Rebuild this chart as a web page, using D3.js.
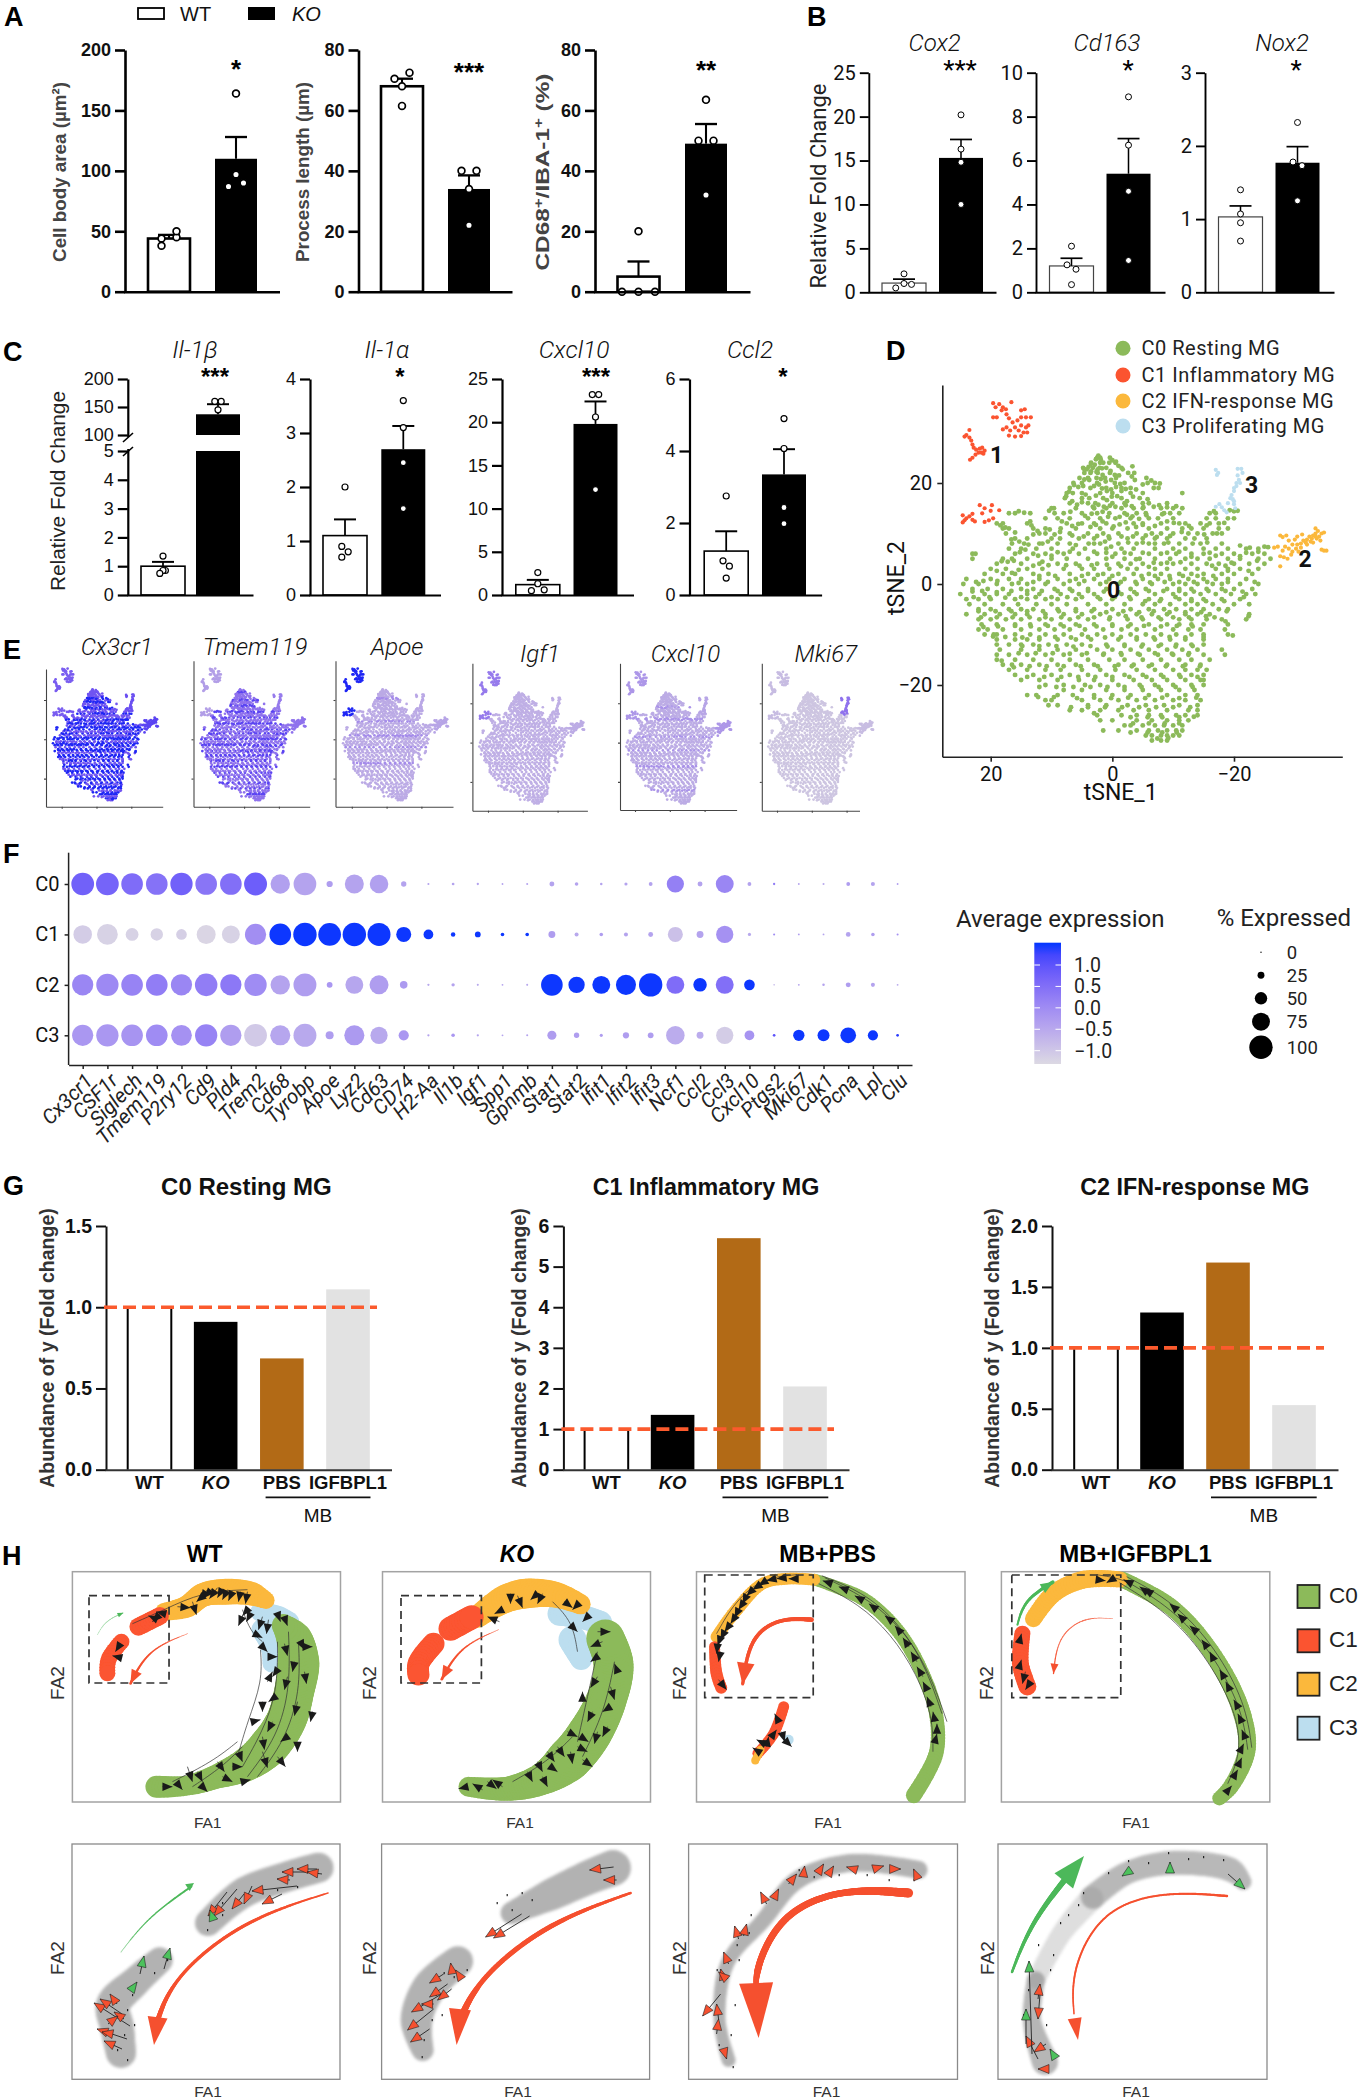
<!DOCTYPE html>
<html><head><meta charset="utf-8">
<style>html,body{margin:0;padding:0;background:#fff}svg{display:block}</style>
<script src="https://cdnjs.cloudflare.com/ajax/libs/d3/7.8.5/d3.min.js"></script>
</head><body><svg id="fig" width="1360" height="2100"></svg>
<script>
const groupsAB = ["WT","KO"];
// Panel A
const a1Val=[44,110],a1Err=[47,128],a1Pts=[[38,44,45,50],[164,97,90,87]],a1Slot=[[-1,-1,1,1],[0,0,1,-1]];
const a2Val=[68,34],a2Err=[70.5,38.5],a2Pts=[[70.5,72.5,68,61.5],[40,40,34,22]],a2Slot=[[-1,1,0,0],[-1,1,0,0]];
const a3Val=[5,49],a3Err=[10,55.5],a3Pts=[[0,0,0,20],[63.5,50,50,32]],a3Slot=[[-2.2,0,2.2,0],[0,-1,1,0]];
// Panel B
const b1Val=[1.05,15.3],b1Err=[1.5,17.4],b1Pts=[[2.1,1,.9,.5],[20.2,16.3,14.8,10]],b1Slot=[[0,0,1,-1.1],[0,0,0,0]];
const b2Val=[1.2,5.4],b2Err=[1.55,7],b2Pts=[[2.1,1.25,1.05,.35],[8.9,6.7,4.6,1.45]],b2Slot=[[0,-.6,.6,0],[0,0,0,0]];
const b3Val=[1.03,1.77],b3Err=[1.18,1.99],b3Pts=[[1.4,1.07,.95,.7],[2.32,1.78,1.73,1.25]],b3Slot=[[0,0,0,0],[0,-.6,.6,0]];
// Panel C
const c1Val=[1,137],c1Err=[1.15,155],c1Pts=[[1.35,.85,.85,.75],[160,160,145],],c1Slot=[[0,.3,0,-.4],[-.4,.4,0]];
const c2Val=[1.1,2.7],c2Err=[1.4,3.13],c2Pts=[[2,.9,.8,.7],[3.6,3.1,2.45,1.6]],c2Slot=[[0,-.4,.4,-.4],[0,0,0,0]];
const c3Val=[1.2,19.8],c3Err=[1.75,22.4],c3Pts=[[2.6,1.3,.6,.5],[23.2,23.2,20.6,12.2]],c3Slot=[[0,0,.8,-.8],[-.4,.4,0,0]];
const c4Val=[1.22,3.35],c4Err=[1.77,4.05],c4Pts=[[2.75,.95,.8,.47],[4.9,4.07,2.43,1.98]],c4Slot=[[0,-.4,.4,0],[0,0,0,0]];
// Panel D : tSNE cells, read as rows [tSNE_2,[tSNE_1,...]]
const c0Rows=[[25,[2.5,2]],[24,[3.5,2,.5,-.5]],[23,[4.8,3.2,2.1,1,-1.5]],[22,[4.6,3.6,2.4,.4,-2.6,-3.6]],[21,[4,2.6,1.2,-.6,-5.6]],[20,[6.4,5,2.5,-.4,-2,-5.8,-7]],[19,[7,3.6,1,-1.5,-3,-6.8,-7.6]],[18,[7.5,6.5,5,2,0,-3,-5,-11.5]],[17,[7.8,5,3.8,1.5,-1.5,-4.5]],[16,[7,4,2.8,0,-2,-5,-6,-9]],[15,[10,6,3,1,-1.5,-3.5,-5,-8,-10,-11.5]],[14,[17,16,13.5,9.5,8,5,2.5,.5,-2,-4,-5.5,-8.5,-9.5,-11,-16,-17]],[13,[11,9,7,4,2,-.5,-3,-6,-7.5,-10,-15.5,-17,-19,-20]],[12,[19,18,14,7.5,5,3,1,-3.5,-5,-8,-11,-12,-14.5,-16,-17.5]],[11,[18,17,13,11,8.5,6,2,0,-2.5,-6,-9,-11.5,-13,-15,-17.5,-19]],[10,[17.5,12,11,7,4,1.5,-1,-4,-8,-10,-12.5,-14,-16.5,-18]],[9,[16,14,10,8.6,5.5,3,.5,-2.5,-5,-7,-9,-12,-13.5,-15.5]],[8,[16.5,14.5,12,9,7,3,2,-1,-4,-6,-8.5,-11,-14.5,-18]],[7,[17,15,12.5,10,6.5,4.5,1,-1.5,-3.5,-7,-10,-12,-15,-17,-19,-22,-24]],[6,[23,22.5,16,13,11,8,5.5,2.5,-.5,-3,-6,-8,-10.5,-13,-15,-18,-20,-23,-25]],[5,[23,18,16.5,14,10,7.5,4,1,-2,-4.5,-7,-9.5,-12,-14,-16,-19,-21,-24,-26]],[4,[19,15,12,9,6,2.5,-1,-3,-5,-8,-10,-13,-15.5,-17.5,-20,-22.5,-25]],[3,[20,17.5,14,11.5,8,5,3,.5,-2.5,-4,-7,-9,-12,-14,-17,-19,-21,-24]],[2,[21,18,16,13,10.5,7,4,1.5,-1,-3.5,-6,-8,-11,-13,-15,-18,-20,-23]],[1,[24,20,17,15,12,9,6,3,.5,-2,-5,-7.5,-9.5,-12.5,-15,-17,-19,-22]],[0,[24.5,22,19,16.5,14,11,8,5.5,2,-1,-4,-6.5,-10,-12,-14,-16.5,-18,-21,-24]],[-1,[23,20.5,18,15,13,9.5,7,4,1,-3,-5.5,-9,-11,-13,-15.5,-18,-20,-23]],[-2,[25,21,19,17,14,12,8.5,5.5,3,-1.5,-4,-7,-10,-12,-14.5,-17,-19.5,-22,-23.5]],[-3,[24,22,20,16,14,11,9,6,2,0,-3,-6,-8,-11,-13,-15,-18,-21]],[-4,[23.5,21,18,15.5,12.5,10,7.5,4,1,-2,-5,-7,-9.5,-12,-14,-16.5,-20,-22.5]],[-5,[22,20,17,15,13,9,6,3,0,-3,-6,-8.5,-10.5,-13,-15,-17.5,-19]],[-6,[24,21,18.5,16,14,11,8,5,2,-1,-4,-6.5,-9,-12,-14,-16,-22.5]],[-7,[22,20,17.5,15,12,10,7,4,.5,-2.5,-5,-8,-11,-13,-15.5,-18,-22]],[-8,[21.5,19,16,13.5,11,8.5,6,3,0,-3,-6,-9,-11,-13,-15,-19]],[-9,[22,20.5,18,15,12,9.5,7,4.5,1.5,-1.5,-4,-7,-10,-12.5,-14.5,-18.5]],[-10,[21,19.5,19,16,13.5,11,8,5,2.5,0,-3,-5.5,-8,-10.5,-13,-15,-19]],[-11,[19,16,14,12,9,6,3.5,-1,-4,-7,-9.5,-12,-15]],[-12,[19,17,15,13,10.5,7.5,5,1,-2,-5,-8,-10.5,-13,-15]],[-13,[18.5,15,12,9,6,2.5,0,-3,-6,-9,-11.5,-14,-18]],[-14,[19,17,14,11,8,5,1.5,-1.5,-4.5,-7.5,-10,-12.5,-15,-18.5]],[-15,[19,16,13,10,7,4,.5,-2,-5,-8,-11,-13,-16]],[-16,[18,16.5,15,12,9,6,3,-1,-3.5,-6.5,-9,-12,-14.5]],[-17,[17,14,11,8.5,5,2,-.5,-4,-7,-10,-12,-14,-15.5]],[-18,[16,13,10,7,4,1,-2,-5,-8,-11,-13,-15]],[-19,[15,12,9,5.5,3,0,-3.5,-6.5,-9,-12,-14.5,-15]],[-20,[11,8,4.5,2,-1,-4.5,-7,-10,-13,-15]],[-21,[8,5,1,-2,-5,-8,-11,-13.5]],[-22,[14,12.5,9,6.5,3,0,-3,-6,-9,-12,-14]],[-23,[11,10,5,2,-1,-4,-7,-10,-12,-14.5]],[-24,[9,10.5,4,1,-2.5,-5.5,-8.5,-11,-14]],[-25,[7,5,2,-1,-3.5,-6,-9,-12.5,-14]],[-26,[2.5,-1.5,-4,-6,-8,-10.5,-12,-14]],[-27,[2,0,-4,-6.5,-9,-11,-12.5]],[-28,[-2,-3,-5,-7,-8.5,-10,-11.5]],[-29,[1.5,-1,-4,-6,-7.5,-9,-10.5,-11.5]],[-30,[-5.5,-6.5,-8,-9,-10,-11]],[-31,[-6.5,-8,-9]]];
// more C0 cells as flat tSNE_1,tSNE_2 pairs
const c0Extra=[2.3,25.4,2.7,24.7,1.9,24.6,2.9,23.6,3.5,23.8,1.5,24,3.9,23.2,2.4,22.7,4.7,22.8,4.2,22.7,1.7,22.9,.4,25,0,24.5,-.6,24.2,-1,23.4,-1.7,22.7,-3.3,23.3,3.5,22.3,2.6,22.2,1.6,21.6,.3,22.4,-.4,21.6,-1.1,21.5,-3.2,21.3,-3.7,20.6,-6.4,20.5,-7.8,19.9,5.4,21,4.6,20.7,3.8,20.6,1.9,20.8,1.1,20.3,.2,20.6,-1.3,19.8,-5,19.7,6.3,19.6,5.6,19.2,4.8,19.4,3,19.4,2.2,19.7,1.7,18.9,.9,18.4,.2,18.7,-.6,19.2,-1.5,18.4,-2.2,18.8,-3.9,18.7,7.1,18.3,7.6,17.4,4.4,17.7,2.7,17.5,.9,16.6,.1,17.3,-.8,17.4,-2.4,16.4,-3.4,17.3,-5.8,16.8,6.6,16.4,5.8,15.7,5,16.2,3.2,15.3,2.3,15.7,1.4,15.3,.4,15.5,-.5,15.3,-2.2,15.6,-3.2,15.4,-5.1,15.2,-6.8,15.3,-7.7,15.6,-9,15.2,-10.5,15.4,10.4,14.5,9.6,15,6.9,14.3,4.5,13.5,3.4,13.9,1.6,14.3,.7,13.3,-1.2,13.3,-2.4,13.7,-3.3,13.4,-4.4,12.9,-5.6,13.6,-8.2,13.8,-16.7,14.4,-19.3,14.6,-20,14.4,-20.6,14.5,15.4,14.4,14.5,14.1,
18.4,11.6,17.6,11.2,13.5,12.4,13.3,11.6,10.3,10.8,8.3,12.4,6.6,11.5,5.6,11.9,3.6,11.3,2.7,11.7,1.6,12.4,-.2,11.4,-1.2,11.8,-2.2,12.2,-3.9,11.3,-5,11.7,-7,11.5,-9,12.4,-10.1,12.1,-12.6,11.5,-15.5,11.6,-18.4,12.1,16,10.2,12.3,10.5,13,9.8,9.5,9.8,8.6,10.3,6.6,9.6,4.7,9.4,2.5,9.5,.6,9.4,-1.5,9.4,-3.4,9.4,-5.5,9.6,-6.5,10,-7.3,9.3,-9.5,9.5,-11.4,10.3,-15.1,9.8,-17.2,10,16.6,8.8,15.3,8.4,13.8,7.8,11.5,8,10.6,8.4,6,7.7,3.9,8,1.2,8.4,.2,7.4,-2.6,8.2,-5,8.2,-7,8,-9.2,8.2,-13.2,8,-15.6,8.2,-21,7.6,-22.6,7.2,-25,7.4,-25.6,7.3,
15.2,6.3,14.3,6.8,12.2,5.6,10,5.6,9,6.3,7,6.4,3,6.4,1,6.2,0,5.4,-2,6.2,-3.9,4.9,-5,6.2,-9,6.2,-11,6.4,-13,5.4,-16,6.2,-17,5.6,-21,5.5,-22,6.2,-24,6.4,18.2,4.5,17.2,4.4,16.2,4.6,13,3.6,11.5,4.4,10.5,3.7,7.6,3.7,5.4,3.6,3.4,3.7,.9,3.8,-1.4,3.5,-6,3.4,-6.8,4.2,-9,4.2,-11.2,4.3,-16.4,3.6,-18.6,3.6,-19.6,4.2,-23.8,4.6,19,2.6,16.5,2.2,15.4,2.8,12,1.6,9.4,1.6,5,1.6,2.4,1.8,0,1.6,-4.8,1.6,-7,1.6,-9.4,1.6,-11.6,1.6,-14,1.6,-16.6,1.6,-19,2.6,-22.4,2.6,
22.4,.4,21.2,.6,18.9,.6,15.4,.2,13,.4,10.6,.4,7,.6,4.6,.6,1,.4,-1.4,.4,-3.8,.4,-6.2,.3,-8.6,.4,-11,.4,-13.4,.4,-15.6,.4,-19,.4,-23.4,.4,23,-1.5,21.4,-1.4,19,-1.6,16.6,-1.4,14,-1.4,11.6,-1.4,9,-1.4,6.6,-1.4,4,-1.4,1.4,-1.5,-1,-1.6,-3.6,-1.6,-6,-1.4,-8.4,-1.4,-11,-1.4,-13.4,-1.5,-15.8,-1.4,-18.6,-1.4,-21.4,-1.5,22.8,-2.6,20.2,-2.6,17.6,-2.7,15,-2.6,12.6,-2.6,10,-2.6,7.4,-2.6,5,-2.6,2.4,-2.6,-.4,-2.6,-2.8,-2.6,-5.4,-3.4,-7.8,-3.4,-10.4,-2.6,-13,-3.4,-15.4,-3.4,-18.4,-3.4,-21.6,-2.6,
22,-5.4,19.2,-5.4,16.6,-5.4,14,-5.4,11.4,-5.4,8.8,-5.4,6,-5.4,3.4,-5.4,1,-5.6,-1.8,-5.4,-4.4,-5.6,-6.8,-5.4,-9.4,-5.6,-12,-5.6,-14.6,-5.6,-18.8,-5.4,21.6,-6.6,19,-6.6,16.4,-6.6,13.6,-6.6,11,-6.6,8.4,-6.6,5.6,-6.6,3,-6.6,.4,-6.6,-2.2,-6.4,-4.8,-6.6,-7.6,-6.6,-10,-6.6,-12.6,-6.6,-15.4,-6.4,-16.8,-6.6,-22.4,-6.4,21.2,-8.5,18.8,-8.4,16,-8.3,13.4,-8.4,10.6,-8.3,8,-8.4,5.4,-8.3,2.6,-8.4,0,-8.3,-2.6,-8.4,-5.2,-8.3,-8,-8.4,-10.6,-8.3,-13.2,-8.4,-18.6,-7.4,19.6,-10.4,17.6,-10.5,14.8,-10.6,12,-10.6,9.4,-10.5,6.8,-10.6,4,-10.5,1.2,-10.6,-1.4,-10.5,-4,-10.6,-6.8,-10.6,-9.4,-10.5,-12,-10.6,-15,-10.5,-19.8,-10.2,
14.8,-12.3,12,-12.3,9.2,-12.3,6.4,-12.4,3.6,-12.3,.8,-12.4,-2,-12.3,-4.8,-12.4,-7.6,-12.3,-10.4,-12.4,-13.2,-12.3,18.2,-15.2,15.4,-13.7,12.6,-13.7,9.8,-13.7,7,-13.8,4.2,-13.7,1.4,-13.8,-1.4,-13.7,-4.2,-13.8,-7,-13.7,-9.8,-13.8,-12.6,-13.7,16.2,-16.5,13.6,-16.3,10.8,-16.3,8,-16.3,5.2,-16.3,2.4,-16.3,-.4,-16.3,-3.2,-16.3,-6,-16.3,-8.8,-16.3,-11.6,-16.3,-14.4,-16.3,14,-18.4,11.2,-18.4,8.4,-18.4,5.6,-18.4,2.8,-18.4,0,-18.4,-2.8,-18.4,-5.6,-18.4,-8.4,-18.4,-11.2,-18.4,-14,-18.4,12,-20.4,9.2,-20.4,6.4,-20.4,3.6,-20.4,.8,-20.4,-2,-20.4,-4.8,-20.4,-7.6,-20.4,-10.4,-20.4,-13.2,-20.4,12.2,-22.4,9.6,-22.4,5.8,-22.6,3,-22.5,.2,-22.6,-2.6,-22.5,-5.4,-22.6,-8.2,-22.5,-11,-22.6,-13.8,-22.5,6.8,-24.4,4,-24.4,1.2,-24.4,-1.6,-24.4,-4.4,-24.4,-7.2,-24.4,-10,-24.4,-12.8,-24.4,3,-25.6,-3,-26.4,-5.8,-26.4,-8.2,-26.4,-11,-26.4,-13.4,-26.3,-3.4,-27.6,-6,-27.6,-8.6,-27.6,-11,-27.6,-3,-29.4,-5.8,-29.4,-8.2,-29.4,-10.6,-29.4,-7.4,-30.6,-9.2,-30.5];
const c1Cells=[[19.6,35.8],[18.6,35.6],[19.2,35],[18,35],[18.2,34.4],[17.5,34.6],[16.6,36],[19.6,33],[19,33],[17.4,33.6],[17,32.8],[16.4,32],[15.6,32.4],[15,33],[15,34.4],[14.4,34.6],[14.2,33],[13.4,33],[16,31],[15,31.4],[14.2,31],[17.4,31],[18,30.6],[16.8,30.4],[15.4,30.4],[14.6,30],[14,30],[13.8,31.4],[17,29.4],[16,29.2],[15,29.3],[24,29.5],[23.5,29],[23.2,28.4],[24.3,29.2],[23.5,30.5],[23,27.6],[22.8,27],[22.4,26.6],[22,26],[21.5,26],[21,26.4],[21.2,25.8],[22.5,25.6],[21.8,26.8],[21.4,27],[23,25],[23.4,24.6],[24.6,13.6],[24,13],[24.3,12.6],[23.5,13.4],[23,12.7],[24.6,12.2],[23,13.9],[22.6,12.4],[21.8,15.6],[21,15],[20,14.5],[19.8,15.6],[21.4,14],[19.6,13],[20.3,12.6],[21,12.3],[18.6,14.6]];
const c2Cells=[[-26.6,7.2],[-27.2,7.4],[-27.6,9.6],[-28,9.3],[-28.6,9.6],[-29,8.6],[-28.4,7.4],[-28,6.6],[-27.6,5.5],[-28.2,5.3],[-28.8,5],[-27.6,3.5],[-29,7],[-29.6,7.8],[-30,8.8],[-30.4,9.4],[-30.4,7.8],[-29.6,6.4],[-30.2,7],[-31,8],[-31.4,8.6],[-31.2,9.8],[-32,8.8],[-32.4,9.4],[-32.6,8.4],[-33,9.6],[-33.4,10],[-33.6,9],[-34,9.4],[-33.8,10.5],[-34.4,10],[-34.8,10.2],[-33.4,11],[-34.2,8.6],[-33,8.2],[-34.8,6.6],[-35.2,6.6],[-34.4,6.8],[-31,7.2],[-32,7.8],[-30.6,6.4],[-29.4,5.8],[-33.4,9.4],[-32.8,9],[-31.8,8.2]];
const c3Cells=[[-17,22.6],[-17.4,22],[-17.2,21.6],[-20.6,22.8],[-21.2,22.8],[-21.4,22],[-20.6,21.5],[-20.8,20.6],[-21,20],[-20.4,20],[-20.4,19.4],[-20,19],[-20,18.4],[-19.6,17.6],[-19.4,17],[-19.8,16.8],[-20,16.4],[-19,16],[-20,15.8],[-20.2,15],[-17.6,15.8],[-17,15.3],[-18,15.2],[-18.4,14.6],[-18.8,14.2]];
// Panel E
const eGenes=["Cx3cr1","Tmem119","Apoe","Igf1","Cxcl10","Mki67"];
const eBase=[[.72,.68,.82,.75],[.55,.3,.55,.5],[.23,.98,.26,.24],[.2,.5,.22,.2],[.22,.34,.34,.26],[.08,.13,.12,.55]];
const eHot=[[.98,[-30,-28,-27,-25,-24,-22,-20,-19,-17,-16,-14,-13,-11,-9,-8,-6,-5,-3,-2,0,1,3,5,6,8,10,13,16,19,21]],[.82,[-28,-25,-22,-19,-17,-14,-11,-8,-6,-3,0,3,5,8,11,14,17,20,24]],[.4,[-12,-4,2,9,21]],[.2,[]],[.36,[-24,-12,-4,3,12,18]],[.08,[]]];
// Panel F
const fGenes=["Cx3cr1","CSF1r","Siglech","Tmem119","P2ry12","Cd9","Pld4","Trem2","Cd68","Tyrobp","Apoe","Lyz2","Cd63","CD74","H2-Aa","Il1b","Igf1","Spp1","Gpnmb","Stat1","Stat2","Ifit1","Ifit2","Ifit3","Ncf1","Ccl2","Ccl3","Cxcl10","Ptgs2","Mki67","Cdk1","Pcna","Lpl","Clu"];
const fRows=["C0","C1","C2","C3"];
const fPct=[[97,97,92,92,95,92,92,98,82,97,22,80,78,18,3,6,4,2,3,16,10,5,8,11,72,16,75,11,4,2,3,11,12,2],
[78,88,52,50,42,80,75,90,92,100,97,100,98,62,38,14,20,10,10,25,12,10,12,16,62,25,72,8,3,2,2,15,10,3],
[90,95,92,92,90,96,90,95,82,98,20,75,80,28,4,9,3,2,3,92,68,75,85,100,75,55,75,42,1,2,5,16,12,2],
[90,95,92,92,88,95,90,97,85,98,30,85,72,40,4,10,4,2,3,35,18,8,22,20,78,25,72,38,6,45,48,65,40,6]];
const fAvg=[[.75,.7,.55,.45,.75,.4,.5,.8,-.35,-.4,-.3,-.4,-.35,-.4,-.4,-.4,-.4,-.4,-.4,-.4,-.4,-.4,-.4,-.4,.2,-.4,.1,-.4,.3,-.4,-.5,-.3,-.4,-.3],
[-1.1,-1.2,-1.2,-1.2,-1.15,-1.25,-1.2,-.05,1.5,1.5,1.5,1.5,1.5,1.5,1.5,1.5,1.5,1.5,1.5,-.3,-.5,-.3,-.4,-.4,-.9,-.4,-.1,-.5,0,-.3,-.4,-.4,-.3,-.1],
[.1,.05,.15,.25,.1,.25,.35,0,-.4,-.3,-.2,-.45,-.3,-.25,-.5,-.4,-.5,-.4,-.5,1.5,1.5,1.5,1.5,1.5,.55,1.5,.5,1.5,-.8,-.4,-.4,-.3,-.4,-.5],
[-.2,-.2,-.15,0,-.1,.15,-.3,-1.05,-.45,-.5,-.3,-.25,-.5,-.2,-.4,-.2,-.4,-.4,-.4,-.3,-.3,-.3,-.3,-.3,-.55,-.55,-1.1,-.15,1,1.5,1.5,1.5,1.5,1.4]];
const avgTicks=[1,.5,0,-.5,-1], pctTicks=[0,25,50,75,100];
// Panel G
const gCats=["WT","KO","PBS","IGFBPL1"];
const g1Val=[1,.91,.685,1.11],g2Val=[1,1.35,5.7,2.05],g3Val=[.99,1.29,1.7,.53];
// Panel H : trajectory blobs [FA1,FA2,width] ; arrows [x1,y1,x2,y2]
const C={g:"#8cba5a",r:"#fb5430",o:"#fbb83c",b:"#bcdeef"};
const h1Blobs=[["b",[[188,40,20],[205,45,22],[218,52,22]]],["b",[[190,58,22],[199,75,22],[199,93,18]]],["g",[[84,215,22],[114,214,20],[144,205,24],[175,192,34],[196,175,40],[214,148,40],[222,118,40],[226,92,42],[222,68,36],[210,53,22]]],["o",[[92,40,18],[114,35,22],[131,23,24],[153,20,26],[179,22,24],[196,30,16]]],["r",[[66,55,18],[90,43,18]]],["r",[[49,70,16],[36,88,16],[35,102,16]]]];
const h2Blobs=[["b",[[177,42,24],[199,45,24],[220,52,24]]],["b",[[190,68,28],[199,88,22]]],["g",[[86,215,20],[125,217,24],[160,207,32],[186,188,44],[207,162,44],[225,125,40],[231,92,40],[222,65,38]]],["o",[[95,45,22],[121,28,28],[142,22,30],[173,23,26],[199,33,20]]],["r",[[68,57,24],[90,45,24]]],["r",[[51,72,22],[36,92,22],[36,103,22]]]];
const h3Blobs=[["g",[[118,8,12],[166,27,14],[200,58,14],[224,98,14],[239,142,14],[239,182,15],[216,225,16]]],["o",[[20,65,12],[40,38,13],[66,12,12],[92,7,12],[118,8,12]]],["r",[[18,75,11],[20,102,12],[25,117,12]]],["b",[[92,168,10],[93,169,10]]],["r",[[87,135,11],[77,162,11],[60,183,11]]],["o",[[64,178,8],[58,190,8]]]];
const h4Blobs=[["g",[[121,8,16],[169,35,17],[208,78,17],[238,135,18],[245,178,18],[229,215,16],[216,228,14]]],["o",[[32,47,17],[52,22,18],[82,8,18],[121,8,16]]],["r",[[21,62,16],[19,92,17],[26,115,18]]]];
const h1Arrows=[[135,18,128,28],[140,17,132,26],[145,16,137,27],[150,17,145,26],[155,18,150,28],[160,20,156,29],[168,20,166,30],[175,20,173,32],[130,25,124,30],[120,30,124,43],[105,35,118,36],[92,42,84,40],[88,42,80,50],[83,47,76,44],[175,38,170,44],[172,40,166,54],[178,42,174,50],[190,45,186,58],[196,48,194,62],[205,42,208,50],[212,46,215,54],[182,62,190,66],[190,75,195,80],[48,72,43,80],[44,85,40,84],[212,72,215,84],[228,70,232,78],[200,85,205,85],[205,98,200,105],[222,90,220,100],[235,75,240,75],[195,110,200,100],[215,105,212,118],[232,100,234,112],[203,125,196,130],[190,130,190,140],[200,150,195,160],[225,130,222,144],[240,140,238,150],[180,150,188,148],[190,165,192,178],[215,165,208,170],[225,170,225,180],[168,185,170,190],[190,180,195,196],[205,185,213,195],[160,195,170,195],[150,205,160,210],[170,210,178,208],[130,215,135,220],[115,195,120,210],[125,200,130,210],[145,190,152,200],[90,215,100,215],[105,212,110,218]];
const h2Arrows=[[117,50,105,45],[120,38,112,42],[128,22,128,32],[135,24,140,36],[155,22,148,28],[160,22,155,32],[182,30,190,36],[196,32,190,38],[205,45,200,50],[190,55,195,60],[215,60,228,60],[220,70,208,75],[215,85,208,90],[235,100,232,92],[215,105,208,116],[228,115,232,128],[210,140,205,150],[228,135,220,140],[200,130,200,120],[198,165,206,170],[215,160,212,172],[225,155,220,165],[185,160,195,165],[195,175,205,180],[175,175,182,185],[188,180,190,192],[200,188,210,195],[165,180,172,190],[155,190,160,200],[168,195,175,200],[145,200,150,210],[160,205,165,215],[120,215,110,208],[100,218,90,212],[85,215,76,217],[105,210,114,217]];
const h3Arrows=[[100,7,92,7],[88,6,80,7],[78,7,70,9],[68,10,62,14],[62,14,56,18],[56,18,50,24],[50,24,46,32],[46,32,42,38],[42,38,38,46],[38,46,34,52],[34,52,28,60],[28,60,24,68],[24,66,21,74],[21,74,20,82],[24,80,22,90],[22,108,30,118],[135,12,126,9],[150,18,142,15],[165,28,158,24],[180,38,172,32],[196,50,188,44],[205,62,198,54],[212,75,206,66],[220,90,214,80],[226,105,220,95],[230,118,226,110],[234,135,230,125],[238,150,236,140],[240,160,240,152],[238,170,240,162],[82,150,78,142],[75,165,80,158],[85,160,88,170],[62,180,56,176],[68,172,60,168],[70,175,72,165],[90,170,95,175]];
const h4Arrows=[[24,100,21,112],[28,112,24,118],[18,70,20,62],[18,95,20,88],[96,8,104,9],[110,8,105,11],[130,12,122,8],[145,20,138,15],[150,22,142,17],[175,38,168,32],[182,48,176,42],[195,60,188,54],[205,75,200,68],[212,88,208,80],[222,105,218,98],[228,118,224,110],[236,135,232,128],[240,150,236,142],[243,165,240,158],[238,180,242,172],[236,195,240,186],[232,205,236,198],[225,220,230,214]];
const h1Streams=[[[188,78,190,110,175,150,165,185]],[[205,70,205,120,190,160,170,195]],[[216,60,218,115,205,165,175,205]],[[226,70,228,120,212,170,185,205]],[[120,215,150,195,170,175]],[[100,210,140,190,165,170]],[[60,52,92,38,130,20,175,18]],[[170,38,178,60,190,70]]];
const h2Streams=[[[215,80,205,125,195,170]],[[130,210,165,190,190,165]],[[170,30,190,50,195,80]],[[232,90,222,140,200,185]]];
const h3Streams=[[[125,4,170,22,206,56,230,98,245,142]],[[122,12,162,32,194,62,220,102,236,146,236,180]],[[128,6,174,28,210,62,234,104,250,150]],[[20,62,38,30,66,6,100,3]]];
const h4Streams=[[[125,5,172,30,214,76,244,132,250,176]],[[118,11,165,40,203,82,234,138,240,180,226,212]],[[122,8,170,36,210,80,240,136,246,178]],[[95,3,115,6,130,12]]];
const hDashBox=[[16.6,24,96.6,111.3],[18.5,24,98.9,111.3],[8.2,3.3,116.5,126],[10.4,3.3,119.2,126]];
const hRedArrow=[[[115,62],[75,78],[58,112]],[[116,58],[77,75],[59,108]],[[115,48],[83,46],[53,65],[46,113]],[[111,47],[82,45],[56,65],[52,102]]];
const hGreenArrow=[[[25,63],[33,49],[51,41]],null,null,[[16,53],[23,28],[52,10]]];
const hRedW=[[.8,2.6],[.8,2.6],[4.5,3],[.8,1.4]], hRedHead=[14,14,22,10], hGreenW=[[.6,1],0,0,[2,3.5]], hGreenHead=[6,0,0,13];
// lower row
const l1Blobs=[[[49,209,30],[45,183,34],[41,161,34],[62,139,30],[88,116,26]],[[136,79,26],[171,49,30],[214,33,30],[249,23,30]]];
const l2Blobs=[[[41,206,22],[35,176,32],[48,143,34],[78,116,30]],[[130,69,22],[173,49,32],[208,33,34],[234,23,36]]];
const l3Blobs=[[[40,216,14],[31,176,12],[39,119,14],[75,76,16],[109,36,18],[161,19,18],[231,26,18]]];
const l4Blobs=[[[47,218,26],[34,176,18],[38,136,18]],[[38,136,18],[64,89,20],[95,53,24]],[[95,53,24],[129,29,22],[173,19,24],[233,26,24],[246,39,16]]];
const lAlpha=[[.65,.65],[.65,.65],[.65],[.62,.28,.6]];
const l1Arrows=[[58,182,22,159],[50,170,28,155],[45,160,38,150],[52,175,42,168],[55,195,25,185],[50,205,32,197],[40,190,30,188],[36,180,46,172],[155,48,136,72],[165,45,142,72],[172,50,160,65],[180,42,172,60],[225,42,180,47],[218,36,205,35],[240,28,210,28],[245,25,225,25],[250,30,235,28],[210,50,190,60]];
const l1Green=[[92,125,98,104],[68,130,72,112],[60,145,65,138],[140,72,138,66]];
const l2Arrows=[[140,70,104,93],[148,72,112,94],[232,23,208,26],[235,36,222,36],[70,125,69,119],[78,132,74,126],[62,130,48,139],[66,140,48,153],[60,150,30,168],[52,165,26,186],[48,185,29,198],[70,145,56,156],[52,160,40,160]];
const l2Green=[];
const l3Arrows=[[32,150,14,172],[35,135,32,125],[40,120,35,108],[50,95,46,82],[55,92,58,80],[78,60,72,48],[85,55,90,45],[100,40,108,30],[115,30,116,22],[130,28,135,20],[140,30,145,22],[165,25,158,23],[185,25,195,22],[205,25,212,25],[228,32,225,25],[38,135,30,128],[30,175,28,160],[28,190,30,175],[35,205,38,215]];
const l3Green=[];
const l4Arrows=[[42,150,40,175],[40,215,28,192],[48,200,36,208],[42,225,40,225],[40,155,42,140]];
const l4Green=[[34,210,31,117],[28,200,28,165],[55,210,52,205],[230,30,247,45],[172,22,172,18],[127,30,124,32]];
const lDots=[[[60,150],[55,165],[52,190],[62,180],[45,205],[95,115],[82,128],[150,70],[165,55],[190,48],[205,45],[225,42],[150,58],[135,85],[55,215]],
[[115,58],[125,50],[130,65],[140,48],[60,170],[54,150],[50,175],[40,212],[62,128],[42,195],[85,125],[72,132],[150,55]],
[[110,25],[125,32],[150,30],[178,30],[200,35],[225,35],[60,88],[62,70],[48,100],[50,115],[28,125],[46,160],[30,200],[44,222],[42,190]],
[[62,78],[70,70],[80,60],[85,48],[110,28],[130,16],[150,18],[170,8],[190,14],[205,12],[225,15],[40,100],[52,125],[55,110],[30,145],[25,170],[48,180],[52,205]]];
const lRedArrow=[[[256,49],[171,76],[101,133],[85,178]],[[249,49],[165,79],[95,136],[77,180]],[[220,49],[153,44],[92,69],[66,126],[68,150]],[[229,52],[164,47],[103,66],[73,126],[76,170]]];
const lRedTip=[[82,201],[75,201],[70,194],[80,196]];
const lRedW=[[1.6,5],[2.5,7],[9,4],[2.4,1.6]],lRedHead=[20,22,34,14],lHeadLen=[28,36,55,22];
const lGreenArrow=[[[49,108],[76,73],[120,42]],null,null,[[14,128],[34,76],[78,22]]];
const lGreenW=[[.8,2],0,0,[2.5,6]],lGreenHead=[8,0,0,24],lGreenLen=[8,0,0,28];
const legendH=["C0","C1","C2","C3"];
const dLegend=["C0 Resting MG","C1 Inflammatory MG","C2 IFN-response MG","C3 Proliferating MG"];

const svg=d3.select("#fig");
const ARIAL="'Liberation Sans',Arial,sans-serif",ROBO="Roboto,sans-serif";
function txt(x,y,s,o={}){const t=svg.append("text").attr("x",x).attr("y",y).attr("font-family",o.f||ROBO).attr("font-size",o.s||18).attr("font-weight",o.w||400).attr("font-style",o.i?"italic":"normal").attr("fill",o.c||"#111").attr("text-anchor",o.a||"start");if(o.html)t.html(s);else t.text(s);if(o.rot)t.attr("transform",`rotate(${o.rot},${x},${y})`);return t;}
function vtxt(x,y,s,o={}){return txt(x,y,s,Object.assign({a:"middle",rot:-90},o));}
function style(g,sw,tf,ts,tw,col="#000"){g.selectAll("path,line").attr("stroke",col).attr("stroke-width",sw);g.selectAll("text").attr("font-family",tf).attr("font-size",ts).attr("font-weight",tw).attr("fill","#111");}
function stars(x,yc,n,s=26,f=ARIAL){txt(x,yc+.42*s,"*".repeat(n),{f,s,w:f===ARIAL?700:400,a:"middle",c:"#000"});}

// === Bar charts A,B,C
function bars(sp){
 const y=sp.y||d3.scaleLinear().domain(sp.dom).range([sp.bot,sp.top]);
 const x=d3.scalePoint().domain(groupsAB).range(sp.c);
 const fw=sp.fw||400;
 sp.val.forEach((v,i)=>{
  const cx=x(groupsAB[i]);
  const segs=sp.segs&&sp.segs[i]?sp.segs[i]:[[0,v]];
  segs.forEach(s=>{svg.append("rect").attr("x",cx-sp.w/2).attr("width",sp.w).attr("y",y(s[1])).attr("height",y(s[0])-y(s[1])).attr("fill",i?"#000":"#fff").attr("stroke",i?"none":(sp.bc||"#000")).attr("stroke-width",sp.bs||sp.sw);});
  const ye=y(sp.err[i]);
  svg.append("line").attr("x1",cx).attr("x2",cx).attr("y1",y(v)).attr("y2",ye).attr("stroke","#000").attr("stroke-width",sp.sw*.8);
  svg.append("line").attr("x1",cx-11).attr("x2",cx+11).attr("y1",ye).attr("y2",ye).attr("stroke","#000").attr("stroke-width",sp.sw*.9);
 });
 sp.pts.forEach((p,i)=>p.forEach((v,j)=>{svg.append("circle").attr("cx",x(groupsAB[i])+sp.slot[i][j]*sp.dx).attr("cy",y(v)).attr("r",sp.r).attr("fill","#fff").attr("stroke","#000").attr("stroke-width",sp.ps);}));
 const gy=svg.append("g").attr("transform",`translate(${sp.ax},0)`).call(d3.axisLeft(y).tickValues(sp.ticks).tickSize(sp.tl).tickSizeOuter(0).tickPadding(4).tickFormat(sp.fmt||d3.format("d")));
 style(gy,sp.sw,sp.tf,sp.ts,fw);
 const xx=d3.scaleLinear().domain([0,1]).range([sp.ax-sp.sw/2,sp.end]);
 const gx=svg.append("g").attr("transform",`translate(0,${sp.bot})`).call(d3.axisBottom(xx).tickValues([]).tickSizeOuter(0));
 style(gx,sp.sw,sp.tf,sp.ts,fw);
 return y;
}
const AS={top:50,bot:291.7,tl:10,sw:2.6,tf:ARIAL,ts:18,fw:700,w:42,r:3.4,ps:1.7,dx:7.5};
bars({...AS,dom:[0,200],ticks:[0,50,100,150,200],ax:125,end:279.5,c:[169,236],val:a1Val,err:a1Err,pts:a1Pts,slot:a1Slot});
bars({...AS,dom:[0,80],ticks:[0,20,40,60,80],ax:358.5,end:512,c:[402,469],val:a2Val,err:a2Err,pts:a2Pts,slot:a2Slot});
bars({...AS,dom:[0,80],ticks:[0,20,40,60,80],ax:595,end:750,c:[638.5,706],val:a3Val,err:a3Err,pts:a3Pts,slot:a3Slot});
const BS={top:72.7,bot:292.3,tl:9,sw:1.9,tf:ROBO,ts:20,w:44,bs:1.2,bc:"#444",r:3,ps:1,dx:7.5};
bars({...BS,dom:[0,25],ticks:[0,5,10,15,20,25],ax:868.8,end:996,c:[904,961],val:b1Val,err:b1Err,pts:b1Pts,slot:b1Slot});
bars({...BS,dom:[0,10],ticks:[0,2,4,6,8,10],ax:1036,end:1165,c:[1071.5,1128.5],val:b2Val,err:b2Err,pts:b2Pts,slot:b2Slot});
bars({...BS,dom:[0,3],ticks:[0,1,2,3],ax:1205,end:1334,c:[1240.5,1297.5],val:b3Val,err:b3Err,pts:b3Pts,slot:b3Slot});
const CS={top:379,bot:595,tl:10,sw:2.2,tf:ARIAL,ts:18,w:44,bs:1.6,r:3,ps:1.2,dx:8};
const c1y=d3.scaleLinear().domain([0,5,100,200]).range([595,451,435,379]);
bars({...CS,y:c1y,ticks:[0,1,2,3,4,5,100,150,200],ax:127.8,end:253,c:[163,218],val:c1Val,err:c1Err,pts:c1Pts,slot:c1Slot,segs:[null,[[0,5],[100,137]]]});
svg.append("rect").attr("x",124).attr("y",437).attr("width",8).attr("height",12).attr("fill","#fff");
[[433,442],[447,456]].forEach(a=>svg.append("line").attr("x1",123).attr("x2",133).attr("y1",a[1]).attr("y2",a[0]).attr("stroke","#000").attr("stroke-width",1.6));
bars({...CS,dom:[0,4],ticks:[0,1,2,3,4],ax:310,end:440.5,c:[345,403.3],val:c2Val,err:c2Err,pts:c2Pts,slot:c2Slot});
bars({...CS,dom:[0,25],ticks:[0,5,10,15,20,25],ax:502,end:633.5,c:[537.8,595.5],val:c3Val,err:c3Err,pts:c3Pts,slot:c3Slot});
bars({...CS,dom:[0,6],ticks:[0,2,4,6],ax:689.5,end:821.6,c:[726.2,784],val:c4Val,err:c4Err,pts:c4Pts,slot:c4Slot});

// labels A
[[236,67,1],[469,70,3],[706,68,2]].forEach(a=>stars(a[0],a[1],a[2]));
vtxt(66,172,"Cell body area (µm²)",{f:ARIAL,s:18.8,w:700,c:"#444"});
vtxt(309,172,"Process length (µm)",{f:ARIAL,s:18.8,w:700,c:"#444"});
vtxt(549,172,'CD68<tspan dy="-6" font-size="13">+</tspan><tspan dy="6">/IBA-1</tspan><tspan dy="-6" font-size="13">+</tspan><tspan dy="6"> (%)</tspan>',{f:ARIAL,s:18.8,w:700,c:"#444",html:1}).attr("textLength",197).attr("lengthAdjust","spacingAndGlyphs");
svg.append("rect").attr("x",138).attr("y",8).attr("width",26).attr("height",11).attr("fill","#fff").attr("stroke","#000").attr("stroke-width",1.8);
svg.append("rect").attr("x",248).attr("y",7).attr("width",27).attr("height",13).attr("fill","#000");
txt(180,21,"WT",{f:ARIAL,s:20}); txt(292,21,"KO",{f:ARIAL,s:20,i:1});
// labels B
[["Cox2",934.7,3,960],["Cd163",1107,1,1128],["Nox2",1282,1,1296]].forEach(a=>{txt(a[1],50.5,a[0],{s:24,i:1,a:"middle",w:300});stars(a[3],68,a[2],26,ROBO);});
vtxt(826,186,"Relative Fold Change",{s:22,c:"#222"});
// labels C
[["Il-1β",195,3,215],["Il-1α",387,1,400],["Cxcl10",574,3,596],["Ccl2",750,1,783]].forEach(a=>{txt(a[1],358,a[0],{f:ROBO,s:24.5,i:1,a:"middle",w:300});stars(a[3],375,a[2],24,ARIAL);});
vtxt(65,491,"Relative Fold Change",{f:ARIAL,s:20.8,c:"#222"});
// panel letters
[["A",4,26],["B",807,26],["C",3,361],["D",886,360],["E",3,659],["F",3,863],["G",3,1195],["H",2,1565]].forEach(a=>txt(a[1],a[2],a[0],{f:ARIAL,s:27,w:700,c:"#000"}));

// === D
const cells=[];
c0Rows.forEach(r=>r[1].forEach(x=>cells.push({x,y:r[0],k:0})));
for(let i=0;i<c0Extra.length;i+=2)cells.push({x:c0Extra[i],y:c0Extra[i+1],k:0});
[[c1Cells,1],[c2Cells,2],[c3Cells,3]].forEach(a=>a[0].forEach(p=>cells.push({x:p[0],y:p[1],k:a[1]})));
const dx=d3.scaleLinear().domain([20,-20]).range([990.7,1234]),dy=d3.scaleLinear().domain([20,-20]).range([483,685]);
const dCol=[C.g,C.r,C.o,C.b];
svg.append("g").selectAll("circle").data(cells).join("circle").attr("cx",d=>dx(d.x)).attr("cy",d=>dy(d.y)).attr("r",d=>d.k?2.1:2.45).attr("fill",d=>dCol[d.k]);
const dax=d3.scaleLinear().domain([dx.invert(942.3),dx.invert(1342.3)]).range([942.3,1342.3]);
const day=d3.scaleLinear().domain([dy.invert(756.7),dy.invert(385)]).range([756.7,385]);
style(svg.append("g").attr("transform","translate(0,756.7)").call(d3.axisBottom(dax).tickValues([20,0,-20]).tickSize(5).tickSizeOuter(0).tickPadding(5).tickFormat(d3.format("d"))),1.6,ROBO,20,400,"#222");
style(svg.append("g").attr("transform","translate(942.3,0)").call(d3.axisLeft(day).tickValues([20,0,-20]).tickSize(5).tickSizeOuter(0).tickPadding(5).tickFormat(d3.format("d"))),1.6,ROBO,20,400,"#222");
txt(1120.7,800,"tSNE_1",{s:23,a:"middle"}); vtxt(904,578,"tSNE_2",{s:23});
[["1",996.7,463],["0",1113.6,598],["3",1251.6,493],["2",1305,567]].forEach(a=>txt(a[1],a[2],a[0],{s:23,w:700,a:"middle",c:"#111"}));
dLegend.forEach((t,i)=>{const yy=[348.3,375,401,426][i];svg.append("circle").attr("cx",1123).attr("cy",yy).attr("r",7.5).attr("fill",dCol[i]);txt(1141.5,yy+6.5,t,{s:20,c:"#222"}).attr("letter-spacing",.5);});

// === E
const eColor=d3.scaleLinear().domain([0,1]).range(["#d6d3de","#0a22f5"]).interpolate(d3.interpolateLab);
const ePan=[[46,669,806.7,162.7,61.7,700],[193.5,660.7,806.7,309.7,209.3,700],[335.5,660.7,806.7,453,351.8,700],[472.4,663.3,810.7,587.4,488,703.3],[620,663.3,810,736.6,635,703.3],[761.8,663.3,810.7,859.5,777,703.3]];
const eTitle=[[116.7,655],[255,655],[397,655],[540,661.7],[685.5,661.7],[825.8,661.7]];
eGenes.forEach((g,i)=>{
 const p=ePan[i];
 const x=d3.scaleLinear().domain([20,-20]).range([p[4],p[4]+69.6]),y=d3.scaleLinear().domain([20,-20]).range([p[5],p[5]+78.6]);
 const hot=eHot[i];
 svg.append("g").selectAll("circle").data(cells).join("circle").attr("cx",d=>x(d.x)).attr("cy",d=>y(d.y)).attr("r",1.35).attr("fill",d=>eColor(hot[1].includes(Math.round(d.y))&&d.k===0?hot[0]:eBase[i][d.k]));
 const ax=d3.scaleLinear().domain([x.invert(p[0]),x.invert(p[3])]).range([p[0],p[3]]);
 const ay=d3.scaleLinear().domain([y.invert(p[2]),y.invert(p[1])]).range([p[2],p[1]]);
 const g1=svg.append("g").attr("transform",`translate(0,${p[2]})`).call(d3.axisBottom(ax).tickValues([20,0,-20]).tickSize(2).tickSizeOuter(0).tickFormat(""));
 const g2=svg.append("g").attr("transform",`translate(${p[0]},0)`).call(d3.axisLeft(ay).tickValues([20,0,-20]).tickSize(2).tickSizeOuter(0).tickFormat(""));
 style(g1,1.1,ROBO,1,400,"#444");style(g2,1.1,ROBO,1,400,"#444");
 txt(eTitle[i][0],eTitle[i][1],g,{s:24,i:1,a:"middle",w:300});
});

// === F
const fExp=d3.scaleLinear().domain([-1.31,1.52]).range(["#dcd9e3","#0036ff"]).interpolate(d3.interpolateLab);
const fR=d3.scaleLinear().domain([0,100]).range([.7,11.7]);
const fx=d3.scalePoint().domain(fGenes).range([82.7,897.6]);
const fy=d3.scalePoint().domain(fRows).range([884,1035.3]);
fRows.forEach((r,i)=>fGenes.forEach((g,j)=>svg.append("circle").attr("cx",fx(g)).attr("cy",fy(r)).attr("r",fR(fPct[i][j])).attr("fill",fExp(fAvg[i][j]))));
const fxa=d3.scaleLinear().domain([68.6,912]).range([68.6,912]);
const gf=svg.append("g").attr("transform","translate(0,1065)");
gf.call(d3.axisBottom(fxa).tickValues(fGenes.map(g=>fx(g))).tickSize(4).tickSizeOuter(0).tickFormat((d,i)=>fGenes[i]));
style(gf,1.5,ROBO,20.5,400,"#222");
gf.selectAll("text").attr("y",0).attr("dy",0).attr("text-anchor","end").attr("font-style","italic").attr("fill","#222").attr("transform","translate(11,17) rotate(-45)");
const gfy=svg.append("g").attr("transform","translate(68.6,0)").call(d3.axisLeft(fy).tickSize(4).tickPadding(5).tickSizeOuter(0));
style(gfy,1.5,ROBO,20,400,"#222");
gfy.select("path.domain").attr("d","M0,852.7V1065");
// colour bar
const defs=svg.append("defs");
const grad=defs.append("linearGradient").attr("id","cb").attr("x1",0).attr("x2",0).attr("y1",1).attr("y2",0);
d3.range(0,1.0001,.1).forEach(t=>grad.append("stop").attr("offset",t).attr("stop-color",fExp(-1.31+t*2.83)));
const cby=d3.scaleLinear().domain([1,-1]).range([965,1050.7]);
svg.append("rect").attr("x",1034.3).attr("y",942.7).attr("width",26.7).attr("height",121.3).attr("fill","url(#cb)");
avgTicks.forEach(t=>{
 svg.append("line").attr("x1",1034.3).attr("x2",1040).attr("y1",cby(t)).attr("y2",cby(t)).attr("stroke","#fff");
 svg.append("line").attr("x1",1055.5).attr("x2",1061).attr("y1",cby(t)).attr("y2",cby(t)).attr("stroke","#fff");
 txt(1074,cby(t)+7,d3.format(".1f")(t).replace("-","−"),{s:19.5,c:"#222"});
});
txt(956,927,"Average expression",{s:24,c:"#222"});
txt(1216.7,926,"% Expressed",{s:24,c:"#222"});
pctTicks.forEach((p,i)=>{const yy=[952.3,975.3,998.3,1021.7,1047.3][i];svg.append("circle").attr("cx",1261).attr("cy",yy).attr("r",fR(p)).attr("fill","#000");txt(1286.7,yy+6.5,p,{s:18.5,c:"#222"});});

// === G
function gchart(sp){
 const y=d3.scaleLinear().domain(sp.dom).range([1469.7,1226]);
 const x=d3.scalePoint().domain(gCats).range(sp.c);
 const fills=["#fff","#000","#b26a16","#e2e2e2"];
 sp.val.forEach((v,i)=>{const cx=x(gCats[i]);
  svg.append("rect").attr("x",cx-21.8).attr("width",43.6).attr("y",y(v)).attr("height",1469.7-y(v)).attr("fill",fills[i]);
  if(i===0)[[cx-21.8],[cx+21.8]].forEach(a=>svg.append("line").attr("x1",a[0]).attr("x2",a[0]).attr("y1",y(v)).attr("y2",1469.7).attr("stroke","#000").attr("stroke-width",2));
  txt(cx+sp.lo[i],1489,gCats[i],{f:ARIAL,s:18.5,w:700,i:i===1,a:"middle",c:"#111"});
 });
 style(svg.append("g").attr("transform",`translate(${sp.ax},0)`).call(d3.axisLeft(y).tickValues(sp.ticks).tickSize(10).tickSizeOuter(0).tickPadding(4).tickFormat(d3.format(sp.fmt))),2,ARIAL,19.5,700,"#111");
 style(svg.append("g").attr("transform","translate(0,1469.7)").call(d3.axisBottom(d3.scaleLinear().domain([0,1]).range([sp.ax-1,sp.end])).tickValues([]).tickSizeOuter(0)),2,ARIAL,10,400,"#333");
 svg.append("line").attr("x1",sp.ax-2).attr("x2",sp.dashEnd).attr("y1",y(1)).attr("y2",y(1)).attr("stroke","#fb5a2d").attr("stroke-width",3.6).attr("stroke-dasharray","13 6");
 svg.append("line").attr("x1",sp.ul[0]).attr("x2",sp.ul[1]).attr("y1",1497.3).attr("y2",1497.3).attr("stroke","#111").attr("stroke-width",1.8);
 txt((sp.ul[0]+sp.ul[1])/2,1521.5,"MB",{f:ARIAL,s:19,a:"middle"});
 txt(sp.tx,1195,sp.title,{f:ARIAL,s:sp.ts,w:700,a:"middle",c:"#111"});
 vtxt(sp.yl,1348,"Abundance of y (Fold change)",{f:ARIAL,s:19.5,w:700,c:"#333"});
}
gchart({dom:[0,1.5],ticks:[0,.5,1,1.5],fmt:".1f",c:[149.5,348],ax:106,end:391.5,val:g1Val,lo:[0,0,0,0],ul:[265.6,370.5],dashEnd:377,title:"C0 Resting MG",ts:24,tx:246.4,yl:54});
gchart({dom:[0,6],ticks:[0,1,2,3,4,5,6],fmt:"d",c:[606.4,805],ax:563.4,end:849,val:g2Val,lo:[0,0,0,0],ul:[722.5,828.3],dashEnd:834,title:"C1 Inflammatory MG",ts:23.3,tx:706,yl:526});
gchart({dom:[0,2],ticks:[0,.5,1,1.5,2],fmt:".1f",c:[1096,1294],ax:1052,end:1338,val:g3Val,lo:[0,0,0,0],ul:[1211,1316.7],dashEnd:1324,title:"C2 IFN-response MG",ts:23.3,tx:1194.8,yl:999});

// === H
const lineC=d3.line().curve(d3.curveBasis), lineR=d3.line().curve(d3.curveCatmullRom);
function head(g,tipx,tipy,ang,len,wid,fill,stroke){
 const c=Math.cos(ang),s=Math.sin(ang);
 g.append("polygon").attr("points",[[tipx,tipy],[tipx-len*c-wid/2*s,tipy-len*s+wid/2*c],[tipx-len*c+wid/2*s,tipy-len*s-wid/2*c]].map(p=>p.join(",")).join(" ")).attr("fill",fill).attr("stroke",stroke||"none").attr("stroke-width",.6);
}
// ribbon of overlapping discs along a smooth path through the read points
function ribbon(g,p,w,col,step,gen){
 const path=g.append("path").attr("d",(gen||lineR)(p)).attr("fill","none").node();
 const L=path.getTotalLength();const cum=[0];
 d3.pairs(p).forEach(([a,b],i)=>cum.push(cum[i]+Math.hypot(b[0]-a[0],b[1]-a[1])));
 const wS=d3.scaleLinear().domain(cum.map(c=>c/cum[cum.length-1])).range(w);
 const pts=d3.range(0,L+.01,step).map(l=>{const q=path.getPointAtLength(l);return [q.x,q.y,wS(l/L)];});
 path.remove();
 g.append("g").selectAll("circle").data(pts).join("circle").attr("cx",d=>d[0]).attr("cy",d=>d[1]).attr("r",d=>d[2]/2).attr("fill",col);
}
defs.append("filter").attr("id","bl").append("feGaussianBlur").attr("stdDeviation",1.6);
defs.append("filter").attr("id","bs").append("feGaussianBlur").attr("stdDeviation",.7);
const hTop=[[72.4,340.5],[382.5,650.5],[696.5,965],[1001.4,1269.8]];
const hBlobs=[h1Blobs,h2Blobs,h3Blobs,h4Blobs],hArrows=[h1Arrows,h2Arrows,h3Arrows,h4Arrows],hStreams=[h1Streams,h2Streams,h3Streams,h4Streams];
const hTitle=[["WT",204.7],["KO",517],["MB+PBS",827.5],["MB+IGFBPL1",1135.5]];
const hFA2=[64,376,686,993],hFA1=[207.7,520,828,1136];
hTop.forEach((b,i)=>{
 const g=svg.append("g");
 const x=d3.scaleLinear().domain([0,268]).range(b),y=d3.scaleLinear().domain([0,230.3]).range([1571.7,1802]);
 g.append("rect").attr("x",b[0]).attr("y",1571.7).attr("width",b[1]-b[0]).attr("height",230.3).attr("fill","#fff").attr("stroke","#a3a3a3").attr("stroke-width",1.5);
 const bg=g.append("g").attr("filter","url(#bs)");
 hBlobs[i].forEach(bl=>{const pts=bl[1];ribbon(bg,pts.map(q=>[x(q[0]),y(q[1])]),pts.map(q=>q[2]),C[bl[0]],3);});
 hStreams[i].forEach(s=>{const p=d3.range(0,s[0].length,2).map(k=>[x(s[0][k]),y(s[0][k+1])]);g.append("path").attr("d",lineC(p)).attr("fill","none").attr("stroke","#333").attr("stroke-width",.7);});
 hArrows[i].forEach(a=>{const x1=x(a[0]),y1=y(a[1]),x2=x(a[2]),y2=y(a[3]);const ang=Math.atan2(y2-y1,x2-x1);
  g.append("line").attr("x1",x1).attr("y1",y1).attr("x2",x2).attr("y2",y2).attr("stroke","#333").attr("stroke-width",.8);
  head(g,x2,y2,ang,10,8.5,"#1a1a1a");});
 const bx=hDashBox[i];
 g.append("rect").attr("x",x(bx[0])).attr("y",y(bx[1])).attr("width",x(bx[2])-x(bx[0])).attr("height",y(bx[3])-y(bx[1])).attr("fill","none").attr("stroke","#333").attr("stroke-width",1.7).attr("stroke-dasharray","8 5");
 const trend=(pts,w,hd,col)=>{const p=pts.map(q=>[x(q[0]),y(q[1])]);ribbon(g,p,p.map((q,k,arr)=>k===0?w[0]:k===arr.length-1?w[1]:(w[0]+w[1])/2),col,.8,lineC);
  const n=p.length-1;head(g,p[n][0],p[n][1],Math.atan2(p[n][1]-p[n-1][1],p[n][0]-p[n-1][0]),hd,hd*.8,col);};
 trend(hRedArrow[i],hRedW[i],hRedHead[i],"#f5502f");
 if(hGreenArrow[i])trend(hGreenArrow[i],hGreenW[i],hGreenHead[i],"#4cb85a");
 txt(hTitle[i][1],1562,hTitle[i][0],{f:ARIAL,s:i===3?24:23,w:700,i:i===1,a:"middle",c:"#000"});
 vtxt(hFA2[i],1683,"FA2",{f:ARIAL,s:19,c:"#333"});
 txt(hFA1[i],1828,"FA1",{f:ARIAL,s:15.5,a:"middle",c:"#333"});
});
// lower row
const lowPan=[[72,340],[381.6,649.6],[688.6,957.5],[998,1267]];
const lBlobs=[l1Blobs,l2Blobs,l3Blobs,l4Blobs],lArr=[l1Arrows,l2Arrows,l3Arrows,l4Arrows],lGr=[l1Green,l2Green,l3Green,l4Green];
const lFA1=[208,518,826.5,1136],lFA2=[64,376,686,994];
lowPan.forEach((b,i)=>{
 const g=svg.append("g");
 const x=d3.scaleLinear().domain([0,b[1]-b[0]]).range(b),y=d3.scaleLinear().domain([0,235.3]).range([1844,2079.3]);
 g.append("rect").attr("x",b[0]).attr("y",1844).attr("width",b[1]-b[0]).attr("height",235.3).attr("fill","#fff").attr("stroke","#8a8a8a").attr("stroke-width",1.3);
 lBlobs[i].forEach((pts,k)=>{const bg=g.append("g").attr("filter","url(#bl)").attr("opacity",lAlpha[i][k]);ribbon(bg,pts.map(q=>[x(q[0]),y(q[1])]),pts.map(q=>q[2]),"#8a8a8a",3);});
 g.append("g").selectAll("rect").data(lDots[i]).join("rect").attr("x",d=>x(d[0])).attr("y",d=>y(d[1])).attr("width",1.2).attr("height",2.2).attr("fill","#222");
 const arrow=(a,col)=>{const x1=x(a[0]),y1=y(a[1]),x2=x(a[2]),y2=y(a[3]);g.append("line").attr("x1",x1).attr("y1",y1).attr("x2",x2).attr("y2",y2).attr("stroke","#222").attr("stroke-width",.9);head(g,x2,y2,Math.atan2(y2-y1,x2-x1),11,9,col,"#222");};
 lArr[i].forEach(a=>arrow(a,"#f5502f"));
 lGr[i].forEach(a=>arrow(a,"#4cc15c"));
 const p=lRedArrow[i].map(q=>[x(q[0]),y(q[1])]);
 ribbon(g,p,p.map((q,k)=>k===p.length-1?lRedW[i][1]:k===0?lRedW[i][0]:(lRedW[i][0]+lRedW[i][1])/2),"#f5502f",.8,lineC);
 const t=lRedTip[i],e=p[p.length-1];const tx=x(t[0]),ty=y(t[1]);
 head(g,tx,ty,Math.atan2(ty-e[1],tx-e[0]),lHeadLen[i],lRedHead[i],"#f5502f");
 if(lGreenArrow[i]){const q=lGreenArrow[i].map(k=>[x(k[0]),y(k[1])]);ribbon(g,q,[lGreenW[i][0],(lGreenW[i][0]+lGreenW[i][1])/2,lGreenW[i][1]],"#4cb85a",.8,lineC);
  const n=q.length-1;head(g,q[n][0]+(i?8:2),q[n][1]-(i?10:3),Math.atan2(q[n][1]-q[n-1][1],q[n][0]-q[n-1][0]),lGreenLen[i]+(i?4:0),lGreenHead[i],"#4cb85a");}
 txt(lFA1[i],2097,"FA1",{f:ARIAL,s:15.5,a:"middle",c:"#333"});
 vtxt(lFA2[i],1958,"FA2",{f:ARIAL,s:19,c:"#333"});
});
// legend H
legendH.forEach((t,i)=>{const yy=[1585,1629.3,1672.7,1716.7][i];
 svg.append("rect").attr("x",1297.5).attr("y",yy).attr("width",22).attr("height",23).attr("fill",dCol[i]).attr("stroke","#222").attr("stroke-width",1.8);
 txt(1329,yy+18,t,{f:ARIAL,s:22.5,c:"#222"});});
</script></body></html>
